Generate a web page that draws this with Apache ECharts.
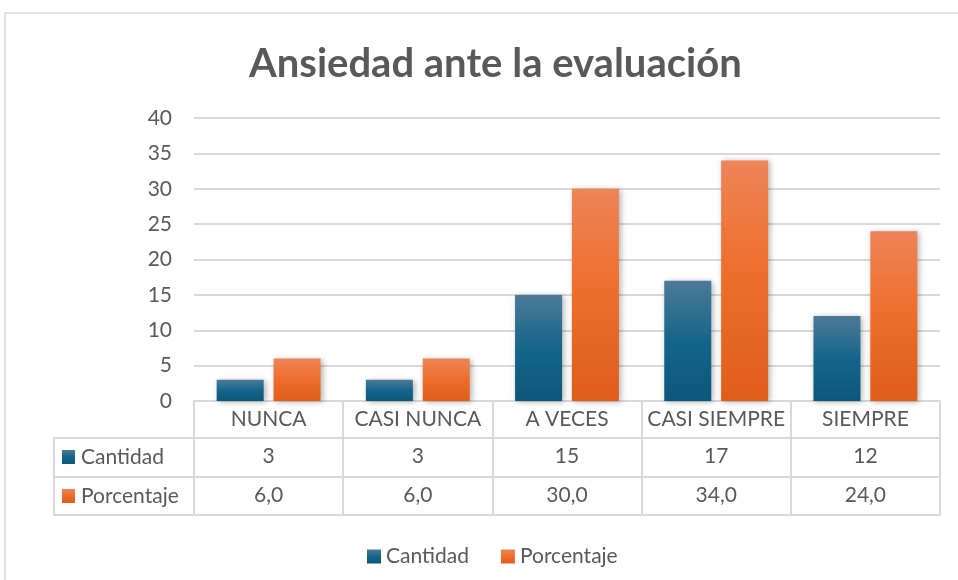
<!DOCTYPE html>
<html>
<head>
<meta charset="utf-8">
<script src="https://cdn.jsdelivr.net/npm/echarts@6/dist/echarts.min.js"></script>
<style>
  html, body { margin: 0; padding: 0; background: #fff; }
  #chart { width: 958px; height: 580px; }
</style>
</head>
<body>
<div id="chart"></div>
<script>
  // datos del gráfico
  var categorias = ['NUNCA', 'CASI NUNCA', 'A VECES', 'CASI SIEMPRE', 'SIEMPRE']
  var cantidad = [3, 3, 15, 17, 12]
  var porcentaje = [6.0, 6.0, 30.0, 34.0, 24.0]
  var yTicks = [0, 5, 10, 15, 20, 25, 30, 35, 40]

  var FONT = 'Lato'
  var FS = 21
  var TXT = '#595959'
  var LINE = '#d9d9d9'

  var azul = new echarts.graphic.LinearGradient(0, 0, 0, 1, [
    { offset: 0, color: '#4d7a98' },
    { offset: 0.5, color: '#15658a' },
    { offset: 1, color: '#0b577b' }
  ])
  var naranja = new echarts.graphic.LinearGradient(0, 0, 0, 1, [
    { offset: 0, color: '#ee8458' },
    { offset: 0.5, color: '#ee6d2a' },
    { offset: 1, color: '#e05d1c' }
  ])

  function coma(v) {
    return v.toFixed(1).replace('.', ',')
  }

  var chart = echarts.init(document.getElementById('chart'))

  // ejes extra para las filas de la tabla de datos
  function filaEje(offset, fmt, showLabel) {
    return {
      type: 'category',
      data: categorias,
      position: 'bottom',
      offset: offset,
      axisLine: { show: true, lineStyle: { color: LINE, width: 2 } },
      axisTick: { show: false },
      axisLabel: {
        show: showLabel,
        interval: 0,
        margin: 8,
        fontSize: FS,
        fontFamily: FONT,
        color: TXT,
        formatter: function (v, i) { return fmt ? fmt(i) : '' }
      }
    }
  }

  chart.setOption({
    animation: false,
    title: {
      text: 'Ansiedad ante la evaluación',
      left: 244,
      top: 39,
      textStyle: { fontFamily: FONT, fontWeight: 'bold', fontSize: 40, color: TXT }
    },
    grid: { left: 194, right: 18, top: 118, height: 283, containLabel: false },
    legend: {
      data: ['Cantidad', 'Porcentaje'],
      left: 362,
      top: 541,
      icon: 'rect',
      itemWidth: 14,
      itemHeight: 14,
      itemGap: 32,
      textStyle: { fontFamily: FONT, fontSize: FS, color: TXT }
    },
    yAxis: {
      type: 'value',
      min: yTicks[0],
      max: yTicks[yTicks.length - 1],
      interval: 5,
      axisLine: { show: false },
      axisTick: { show: false },
      axisLabel: { margin: 22, fontSize: FS, fontFamily: FONT, color: TXT },
      splitLine: { lineStyle: { color: LINE, width: 2 } }
    },
    xAxis: [
      {
        type: 'category',
        data: categorias,
        position: 'bottom',
        axisLine: { lineStyle: { color: LINE, width: 2 } },
        axisTick: { show: true, interval: 0, length: 115, lineStyle: { color: LINE, width: 2 } },
        axisLabel: { interval: 0, margin: 8, fontSize: FS, fontFamily: FONT, color: TXT }
      },
      filaEje(37, function (i) { return String(cantidad[i]) }, true),
      filaEje(76, function (i) { return coma(porcentaje[i]) }, true),
      filaEje(114, null, false)
    ],
    series: [
      {
        name: 'Cantidad',
        type: 'bar',
        data: cantidad,
        barWidth: '31.5%',
        barGap: '21%',
        itemStyle: {
          color: azul,
          shadowBlur: 6,
          shadowColor: 'rgba(0,0,0,0.3)',
          shadowOffsetX: 2,
          shadowOffsetY: 1
        }
      },
      {
        name: 'Porcentaje',
        type: 'bar',
        data: porcentaje,
        barWidth: '31.5%',
        barGap: '21%',
        itemStyle: {
          color: naranja,
          shadowBlur: 6,
          shadowColor: 'rgba(0,0,0,0.3)',
          shadowOffsetX: 2,
          shadowOffsetY: 1
        }
      }
    ],
    graphic: [
      // marco del gráfico
      { type: 'rect', shape: { x: 5, y: 13, width: 1000, height: 600 }, style: { fill: 'none', stroke: LINE, lineWidth: 1.5 } },
      // columna de encabezados de la tabla
      { type: 'line', shape: { x1: 54, y1: 438, x2: 195, y2: 438 }, style: { stroke: LINE, lineWidth: 2 } },
      { type: 'line', shape: { x1: 54, y1: 477, x2: 195, y2: 477 }, style: { stroke: LINE, lineWidth: 2 } },
      { type: 'line', shape: { x1: 54, y1: 515, x2: 195, y2: 515 }, style: { stroke: LINE, lineWidth: 2 } },
      { type: 'line', shape: { x1: 54, y1: 437, x2: 54, y2: 516 }, style: { stroke: LINE, lineWidth: 2 } },
      { type: 'rect', shape: { x: 62, y: 450, width: 13, height: 14 }, style: { fill: azul } },
      { type: 'text', x: 81, y: 457, style: { text: 'Cantidad', font: FS + 'px ' + FONT, fill: TXT, verticalAlign: 'middle' } },
      { type: 'rect', shape: { x: 62, y: 489, width: 13, height: 14 }, style: { fill: naranja } },
      { type: 'text', x: 81, y: 496, style: { text: 'Porcentaje', font: FS + 'px ' + FONT, fill: TXT, verticalAlign: 'middle' } }
    ]
  })
</script>
</body>
</html>
